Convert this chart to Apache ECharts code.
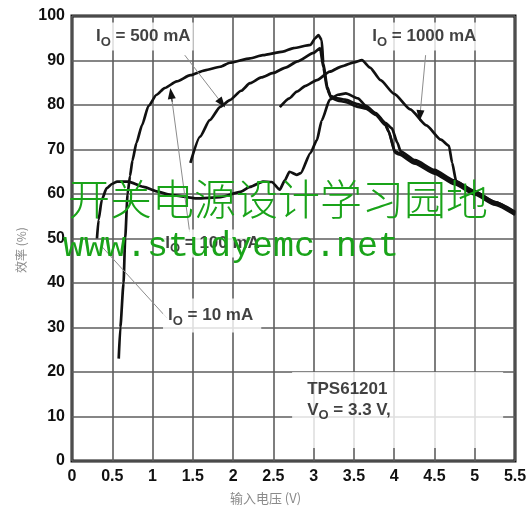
<!DOCTYPE html>
<html>
<head>
<meta charset="utf-8">
<title>TPS61201 效率 vs 输入电压</title>
<script src="https://cdn.jsdelivr.net/npm/echarts@6/dist/echarts.min.js"></script>
<style>
  html, body { margin: 0; padding: 0; background: #fff; }
  #chart { width: 528px; height: 513px; }
</style>
</head>
<body>
<div id="chart"></div>
<script>
// 效率曲线 [输入电压 V, 效率 %]
const io10mA = [
  [0.31, 50.0], [0.33, 54.2], [0.37, 58.7], [0.43, 61.3], [0.5, 62.3], [0.56, 62.8],
  [0.7, 62.8], [0.89, 61.6], [1.05, 60.6], [1.22, 59.8], [1.55, 59.0], [1.84, 59.3],
  [2.09, 60.5], [2.21, 61.6], [2.37, 62.8], [2.48, 62.7], [2.58, 61.0], [2.64, 63.0],
  [2.7, 65.0], [2.79, 64.3], [2.84, 64.7], [2.96, 69.2], [3.04, 72.1], [3.1, 76.5],
  [3.2, 81.2], [3.3, 82.3], [3.4, 82.6], [3.55, 81.5], [3.65, 79.8], [3.77, 78.2],
  [3.89, 76.0], [3.97, 74.8], [4.04, 71.5], [4.08, 69.6], [4.26, 67.6], [4.5, 65.4],
  [4.75, 63.0], [5.0, 60.6], [5.25, 58.2], [5.5, 56.0]
]
const io100mA = [
  [0.58, 23.0], [0.6, 30.0], [0.64, 40.0], [0.66, 50.0], [0.69, 60.0], [0.72, 64.0],
  [0.75, 67.5], [0.8, 71.5], [0.87, 75.5], [0.95, 79.8], [1.05, 82.3], [1.15, 83.8],
  [1.3, 85.3], [1.47, 86.7], [1.65, 87.8], [1.84, 88.6], [1.96, 89.5], [2.21, 90.5],
  [2.37, 91.2], [2.62, 92.0], [2.75, 92.8], [2.96, 93.5], [3.02, 95.0], [3.06, 95.7],
  [3.1, 94.6], [3.12, 89.4], [3.17, 84.0], [3.21, 82.0], [3.3, 81.5], [3.39, 81.2],
  [3.55, 80.2], [3.65, 79.5], [3.77, 78.0], [3.89, 75.8], [3.93, 74.0], [4.01, 69.6],
  [4.06, 69.2], [4.26, 67.2], [4.5, 65.0], [4.75, 62.6], [5.0, 60.2], [5.25, 57.9],
  [5.5, 55.6]
]
const io500mA = [
  [1.47, 67.0], [1.59, 72.9], [1.71, 76.6], [1.84, 79.6], [1.96, 81.1], [2.1, 83.2],
  [2.21, 84.9], [2.35, 86.2], [2.5, 87.2], [2.65, 88.4], [2.8, 89.8], [3.0, 91.7],
  [3.08, 92.8], [3.12, 88.5], [3.17, 83.4], [3.22, 81.6], [3.3, 81.0], [3.39, 80.7],
  [3.55, 79.6], [3.65, 79.2], [3.77, 77.8], [3.89, 75.5], [3.93, 74.2], [4.01, 69.3],
  [4.06, 68.9], [4.26, 66.8], [4.5, 64.6], [4.75, 62.2], [5.0, 59.9], [5.25, 57.6],
  [5.5, 55.3]
]
const io1000mA = [
  [2.58, 79.5], [2.7, 81.5], [2.79, 83.0], [2.9, 84.3], [3.04, 85.6], [3.2, 87.5],
  [3.35, 88.7], [3.5, 89.6], [3.6, 90.1], [3.7, 88.4], [3.83, 85.6], [4.0, 82.5],
  [4.2, 79.0], [4.4, 75.4], [4.58, 72.2], [4.68, 70.8], [4.72, 67.0], [4.77, 62.8],
  [5.0, 60.5], [5.25, 58.2], [5.5, 55.8]
]

// 坐标轴刻度
const xTicks = [0, 0.5, 1, 1.5, 2, 2.5, 3, 3.5, 4, 4.5, 5, 5.5]
const yTicks = [0, 10, 20, 30, 40, 50, 60, 70, 80, 90, 100]

const chart = echarts.init(document.getElementById('chart'))

const fontLatin = '"Liberation Sans", Arial, sans-serif'
const fontCJK = '"Noto Sans CJK SC", sans-serif'

function curve(name, data) {
  return {
    name: name,
    type: 'line',
    data: data,
    showSymbol: false,
    smooth: 0.2,
    smoothMonotone: 'x',
    silent: true,
    z: 3,
    lineStyle: { color: '#111', width: 2.7 }
  }
}

// 标注文字（数据坐标为左边中点）
const notes = [
  { at: [0.26, 95.4], text: '{b|I}{s|O}{b| = 500 mA}' },
  { at: [3.69, 95.4], text: '{b|I}{s|O}{b| = 1000 mA}' },
  { at: [1.12, 48.9], text: '{b|I}{s|O}{b| = 100 mA}' },
  { at: [1.13, 32.7], text: '{b|I}{s|O}{b| = 10 mA}', padding: [5, 8, 5, 5] },
  { at: [2.733, 11.46], text: '{t|TPS61201}\n{b|V}{s|O}{b| = 3.3 V,}', padding: [8, 0, 26, 15], width: 196 }
]

// 引线：从标注指向曲线
const leaders = [
  { from: [1.40, 91.2], to: [1.86, 80.4], head: true },
  { from: [1.46, 51.5], to: [1.23, 82.6], head: true },
  { from: [4.39, 91.2], to: [4.32, 77.6], head: true },
  { from: [1.18, 32.1], to: [0.37, 48.2], head: false }
]

const markData = []
leaders.forEach(function (l) {
  markData.push([{ coord: l.from }, { coord: l.to }])
  if (l.head) {
    const t = 0.94
    const mid = [l.from[0] + (l.to[0] - l.from[0]) * t, l.from[1] + (l.to[1] - l.from[1]) * t]
    markData.push([
      { coord: mid, lineStyle: { color: '#111', width: 1 } },
      { coord: l.to, symbol: 'triangle', symbolSize: [8, 11] }
    ])
  }
})

const series = [
  curve('IO = 10 mA', io10mA),
  curve('IO = 100 mA', io100mA),
  curve('IO = 500 mA', io500mA),
  curve('IO = 1000 mA', io1000mA)
]
series[0].markLine = {
  silent: true,
  animation: false,
  symbol: 'none',
  label: { show: false },
  lineStyle: { color: '#8c8c8c', width: 1, type: 'solid' },
  emphasis: { disabled: true },
  data: markData
}
series.push({
  type: 'scatter',
  silent: true,
  symbolSize: 0,
  z: 6,
  data: notes.map(function (n) {
    const label = { formatter: n.text }
    if (n.padding) label.padding = n.padding
    if (n.width) label.width = n.width
    return { value: n.at, label: label }
  }),
  label: {
    show: true,
    position: 'right',
    distance: 0,
    backgroundColor: '#fff',
    padding: [2, 3, 2, 3],
    color: '#111',
    fontFamily: fontLatin,
    rich: {
      b: { fontFamily: fontLatin, fontSize: 17, fontWeight: 'bold', lineHeight: 24, color: '#111' },
      t: { fontFamily: fontLatin, fontSize: 17, fontWeight: 'bold', lineHeight: 18, color: '#111' },
      s: { fontFamily: fontLatin, fontSize: 13, fontWeight: 'bold', lineHeight: 13, padding: [11, 0, 0, 0], color: '#111' }
    }
  }
})

chart.setOption({
  animation: false,
  backgroundColor: '#fff',
  grid: {
    left: 72, right: 13, top: 16, bottom: 52,
    show: true,
    borderColor: '#111',
    borderWidth: 3,
    outerBoundsMode: 'none'
  },
  xAxis: {
    type: 'value',
    min: xTicks[0],
    max: xTicks[xTicks.length - 1],
    interval: xTicks[1] - xTicks[0],
    name: '输入电压 (V)',
    nameLocation: 'middle',
    nameGap: 31,
    nameTextStyle: { color: '#8a8a8a', fontSize: 13, fontFamily: fontCJK, padding: [0, 56, 0, 0] },
    axisLine: { show: false },
    axisTick: { show: false },
    axisLabel: { color: '#111', fontSize: 16, fontWeight: 'bold', fontFamily: fontLatin, margin: 8 },
    splitLine: { show: true, lineStyle: { color: '#5e5e5e', width: 1.6 } }
  },
  yAxis: {
    type: 'value',
    min: yTicks[0],
    max: yTicks[yTicks.length - 1],
    interval: yTicks[1] - yTicks[0],
    name: '效率 (%)',
    nameLocation: 'middle',
    nameRotate: 90,
    nameGap: 45,
    nameTextStyle: { color: '#8a8a8a', fontSize: 12, fontFamily: fontCJK, padding: [0, 23, 0, 0] },
    axisLine: { show: false },
    axisTick: { show: false },
    axisLabel: { color: '#111', fontSize: 16, fontWeight: 'bold', fontFamily: fontLatin, margin: 7 },
    splitLine: { show: true, lineStyle: { color: '#5e5e5e', width: 1.6 } }
  },
  series: series,
  graphic: [
    {
      type: 'text', left: 68, top: 178, z: 100, silent: true,
      style: { text: '开关电源设计学习园地', font: '300 42px "Noto Sans CJK SC"', fill: '#19a319' }
    },
    {
      type: 'text', left: 63, top: 229, z: 100, silent: true,
      style: { text: 'www.studyemc.net', font: '35px "Liberation Mono"', fill: '#19a319' }
    }
  ]
})
</script>
</body>
</html>
